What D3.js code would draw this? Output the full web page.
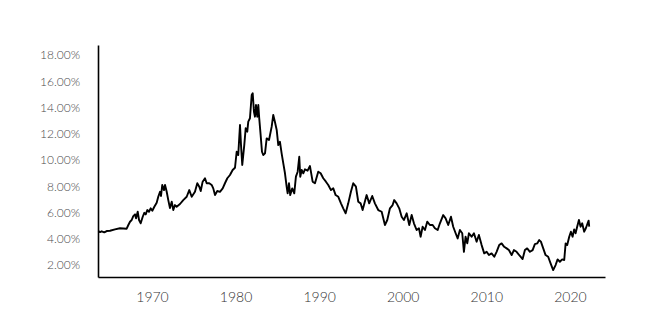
<!DOCTYPE html>
<meta charset="utf-8">

<style>
    body { margin: 0; background: #fff; }

    .line {
        fill: none;
        stroke: #000;
        stroke-width: 1.9px;
        stroke-linejoin: round;
    }

    .axis path {
        stroke: #000;
        stroke-width: 1.6px;
    }

    .axis text {
        font-family: Lato, sans-serif;
        font-weight: 300;
    }
</style>

<body>
<svg width="661" height="321"></svg>

<script src="https://d3js.org/d3.v7.min.js"></script>
<script>

    // roughly one point every few months
    var years = [
        1963.58, 1963.78, 1963.98, 1964.29, 1964.58, 1964.98, 1965.57, 1966.17, 1966.97, 1967.17,
        1967.37, 1967.57, 1967.76, 1967.97, 1968.09, 1968.29, 1968.45, 1968.65, 1968.89, 1969.08,
        1969.25, 1969.44, 1969.64, 1969.84, 1970.04, 1970.28, 1970.56, 1970.75, 1970.96, 1971.08,
        1971.23, 1971.44, 1971.56, 1971.76, 1971.95, 1972.15, 1972.36, 1972.55, 1972.75, 1972.95,
        1973.35, 1973.74, 1974.15, 1974.46, 1974.75, 1975.14, 1975.42, 1975.66, 1975.83, 1976.06,
        1976.34, 1976.54, 1976.85, 1977.14, 1977.33, 1977.54, 1977.81, 1978.13, 1978.46, 1978.73,
        1979.01, 1979.33, 1979.65, 1979.93, 1980.13, 1980.32, 1980.53, 1980.65, 1980.80, 1981.04,
        1981.21, 1981.40, 1981.52, 1981.72, 1981.93, 1982.05, 1982.20, 1982.32, 1982.44, 1982.60,
        1982.72, 1982.83, 1983.00, 1983.16, 1983.31, 1983.52, 1983.72, 1984.00, 1984.32, 1984.51,
        1984.71, 1984.92, 1985.11, 1985.31, 1985.51, 1985.71, 1985.91, 1986.11, 1986.23, 1986.39,
        1986.54, 1986.78, 1987.02, 1987.22, 1987.43, 1987.62, 1987.74, 1987.91, 1988.10, 1988.30,
        1988.62, 1988.90, 1989.22, 1989.50, 1989.89, 1990.18, 1990.49, 1990.81, 1991.09, 1991.41,
        1991.69, 1991.97, 1992.29, 1992.61, 1992.88, 1993.17, 1993.48, 1993.80, 1994.08, 1994.40,
        1994.68, 1994.96, 1995.20, 1995.68, 1995.99, 1996.35, 1996.67, 1997.07, 1997.48, 1997.87,
        1998.15, 1998.47, 1998.79, 1998.98, 1999.27, 1999.58, 1999.87, 2000.14, 2000.47, 2000.78,
        2001.07, 2001.34, 2001.66, 2001.94, 2002.14, 2002.38, 2002.66, 2002.93, 2003.25, 2003.58,
        2003.85, 2004.18, 2004.45, 2004.84, 2005.13, 2005.44, 2005.77, 2006.04, 2006.33, 2006.57,
        2006.84, 2007.12, 2007.32, 2007.52, 2007.72, 2007.92, 2008.24, 2008.52, 2008.84, 2009.11,
        2009.44, 2009.75, 2010.04, 2010.31, 2010.63, 2010.95, 2011.23, 2011.54, 2011.83, 2012.14,
        2012.43, 2012.70, 2013.03, 2013.30, 2013.62, 2014.02, 2014.34, 2014.62, 2014.89, 2015.22,
        2015.54, 2015.81, 2016.09, 2016.33, 2016.53, 2016.81, 2017.09, 2017.40, 2017.69, 2018.00,
        2018.29, 2018.53, 2018.80, 2019.08, 2019.32, 2019.49, 2019.68, 2019.92, 2020.12, 2020.32,
        2020.51, 2020.68, 2020.87, 2021.08, 2021.28, 2021.47, 2021.71, 2021.91, 2022.12, 2022.24,
        2022.31
    ];

    var rates = [
        4.59, 4.51, 4.57, 4.49, 4.59, 4.61, 4.72, 4.80, 4.77, 5.05,
        5.30, 5.43, 5.73, 5.86, 5.56, 6.06, 5.43, 5.18, 5.68, 5.98,
        5.86, 6.19, 6.06, 6.32, 6.14, 6.44, 6.75, 7.20, 7.58, 7.26,
        8.10, 7.71, 8.10, 7.58, 6.95, 6.34, 6.82, 6.19, 6.57, 6.44,
        6.65, 6.95, 7.20, 7.71, 7.20, 7.58, 8.23, 7.97, 7.64, 8.35,
        8.61, 8.23, 8.23, 8.10, 7.84, 7.33, 7.64, 7.58, 7.84, 8.23,
        8.61, 8.86, 9.24, 9.41, 10.63, 10.38, 12.67, 11.14, 9.62, 11.14,
        12.42, 12.16, 12.92, 13.18, 14.95, 15.08, 13.68, 13.30, 14.19, 13.30,
        14.19, 13.18, 11.90, 10.63, 10.38, 10.51, 11.65, 11.52, 12.54, 13.43,
        12.90, 12.29, 11.14, 11.39, 10.51, 9.75, 8.99, 7.97, 7.46, 8.23,
        7.33, 7.84, 7.46, 8.73, 9.11, 10.25, 8.73, 9.24, 8.99, 9.29,
        9.19, 9.54, 8.35, 8.23, 9.11, 8.99, 8.61, 8.35, 8.10, 7.71,
        7.84, 7.33, 7.20, 6.70, 6.32, 5.94, 6.70, 7.58, 8.23, 7.97,
        6.82, 6.70, 6.19, 7.33, 6.70, 7.26, 6.70, 6.19, 6.06, 5.05,
        5.43, 6.32, 6.57, 6.95, 6.70, 6.32, 5.68, 5.43, 5.94, 5.05,
        5.81, 5.18, 4.67, 4.80, 4.16, 4.92, 4.67, 5.30, 5.05, 5.05,
        4.80, 4.67, 5.18, 5.81, 5.56, 5.05, 5.68, 4.92, 4.42, 4.03,
        4.67, 4.42, 3.01, 4.16, 3.65, 4.42, 4.16, 4.42, 3.78, 4.29,
        3.52, 2.89, 3.01, 2.76, 2.89, 2.63, 3.01, 3.52, 3.65, 3.39,
        3.27, 3.14, 2.76, 3.14, 3.01, 2.69, 2.46, 3.14, 3.27, 3.01,
        3.14, 3.60, 3.65, 3.90, 3.78, 3.27, 2.76, 2.63, 2.13, 1.62,
        2.00, 2.43, 2.25, 2.43, 2.38, 3.65, 3.52, 4.16, 4.54, 4.16,
        4.72, 4.42, 4.92, 5.43, 4.92, 5.18, 4.54, 4.80, 5.18, 5.38,
        4.92
    ];

    var yTicks = [2, 4, 6, 8, 10, 12, 14, 16, 18];
    var xTicks = [1970, 1980, 1990, 2000, 2010, 2020];

    var svg = d3.select("svg");

    var x = d3.scaleLinear().domain([1963.54, 2024.2]).range([98, 605]);
    var y = d3.scaleLinear().domain([1.09, 18.76]).range([277, 45]);

    var data = years.map(function (d, i) {
        return {year: d, rate: rates[i]};
    });

    // y axis
    svg.append("g")
        .attr("class", "axis")
        .attr("transform", "translate(98,0)")
        .call(d3.axisLeft(y)
            .tickValues(yTicks)
            .tickSize(0)
            .tickPadding(18)
            .tickFormat(function (d) { return d.toFixed(2) + "%"; }))
        .selectAll("text")
        .style("font-size", "12px")
        .style("fill", "#4a4a4a");

    // x axis
    svg.append("g")
        .attr("class", "axis")
        .attr("transform", "translate(0,277)")
        .call(d3.axisBottom(x)
            .tickValues(xTicks)
            .tickSize(0)
            .tickPadding(15)
            .tickFormat(d3.format("d")))
        .selectAll("text")
        .style("font-size", "14px")
        .style("fill", "#333");

    var line = d3.line()
        .x(function (d) { return x(d.year); })
        .y(function (d) { return y(d.rate); });

    svg.append("path")
        .datum(data)
        .attr("class", "line")
        .attr("d", line);

</script>
</body>
